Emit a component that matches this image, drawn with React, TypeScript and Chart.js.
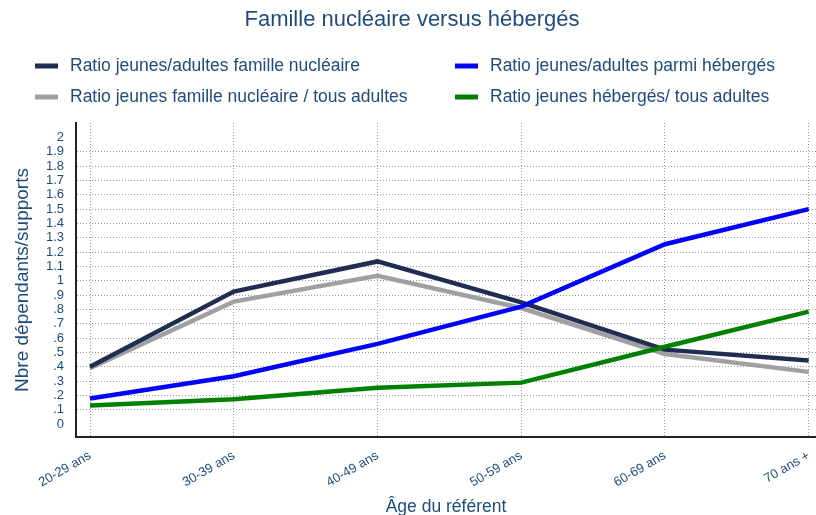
import React, { useEffect, useRef } from "react";
import { Chart, registerables } from "chart.js";

Chart.register(...registerables);

const categories = ["20-29 ans", "30-39 ans", "40-49 ans", "50-59 ans", "60-69 ans", "70 ans +"];
const ratioFamille = [0.4, 0.925, 1.135, 0.85, 0.52, 0.445];
const ratioHeberges = [0.18, 0.335, 0.56, 0.82, 1.255, 1.5];
const ratioFamilleTous = [0.39, 0.855, 1.035, 0.81, 0.49, 0.365];
const ratioHebergesTous = [0.13, 0.175, 0.255, 0.29, 0.54, 0.785];
const yTickValues = [0, 0.1, 0.2, 0.3, 0.4, 0.5, 0.6, 0.7, 0.8, 0.9, 1, 1.1, 1.2, 1.3, 1.4, 1.5, 1.6, 1.7, 1.8, 1.9, 2];
const seriesNames = [
  "Ratio jeunes/adultes famille nucléaire",
  "Ratio jeunes/adultes parmi hébergés",
  "Ratio jeunes famille nucléaire / tous adultes",
  "Ratio jeunes hébergés/ tous adultes",
];
const seriesColors = ["#1f2d52", "#0000ff", "#a0a0a0", "#008000"];
const titleText = "Famille nucléaire versus hébergés";
const xTitle = "Âge du référent";
const yTitle = "Nbre dépendants/supports";

const TEXT = "#1f4b7a";
const FONT = "'Liberation Sans', Arial, Helvetica, sans-serif";

const fmtTick = (v: number) => {
  const r = Math.round(v * 10) / 10;
  if (r === 0) return "0";
  if (r < 1) return "." + Math.round(r * 10);
  return String(r);
};

const headerPlugin = {
  id: "header",
  afterDraw(chart: any) {
    const ctx = chart.ctx;
    ctx.save();
    ctx.fillStyle = TEXT;
    ctx.textBaseline = "middle";
    ctx.textAlign = "center";
    ctx.font = `22px ${FONT}`;
    ctx.fillText(titleText, 412, 20);
    ctx.textAlign = "left";
    ctx.font = `17.5px ${FONT}`;
    const cols = [35, 455];
    const rows = [66, 97];
    seriesNames.forEach((name, k) => {
      const x = cols[k % 2];
      const y = rows[Math.floor(k / 2)];
      ctx.fillStyle = seriesColors[k];
      ctx.fillRect(x, y - 2.5, 23, 5);
      ctx.fillStyle = TEXT;
      ctx.fillText(name, x + 35, y);
    });
    ctx.restore();
  },
};

export default function App() {
  const ref = useRef<HTMLCanvasElement>(null);
  useEffect(() => {
    if (!ref.current) return;
    const series = [ratioFamille, ratioHeberges, ratioFamilleTous, ratioHebergesTous];
    const orders = [2, 1, 3, 0];
    const chart = new Chart(ref.current, {
      type: "line",
      data: {
        datasets: series.map((s, i) => ({
          label: seriesNames[i],
          data: s.map((v, j) => ({ x: j, y: v })),
          borderColor: seriesColors[i],
          backgroundColor: seriesColors[i],
          borderWidth: 4.5,
          pointRadius: 0,
          tension: 0,
          fill: false,
          order: orders[i],
        })),
      },
      options: {
        animation: false,
        responsive: false,
        layout: { padding: { top: 123, left: 4, right: 0, bottom: 0 } },
        plugins: {
          legend: { display: false },
          title: { display: false },
          tooltip: { enabled: false },
        },
        scales: {
          x: {
            type: "linear",
            min: -0.0974,
            max: 5.0508,
            afterBuildTicks: (scale: any) => {
              scale.ticks = categories.map((_, i) => ({ value: i }));
            },
            afterFit: (scale: any) => {
              scale.height = 78;
              scale.paddingRight = 0;
            },
            ticks: {
              autoSkip: false,
              maxRotation: 30,
              minRotation: 30,
              padding: 11,
              color: TEXT,
              font: { family: FONT, size: 13 },
              callback: (v: any) => categories[Math.round(Number(v))] ?? "",
            },
            grid: { color: "#9a9a9a", lineWidth: 1, drawTicks: false },
            border: { display: true, color: "#222", width: 2, dash: [1, 2] },
            title: {
              display: true,
              text: xTitle,
              color: TEXT,
              font: { family: FONT, size: 17.5, lineHeight: 1 },
              padding: { top: 0, bottom: -1 },
            },
          },
          y: {
            type: "linear",
            min: -0.089,
            max: 2.1,
            afterBuildTicks: (scale: any) => {
              scale.ticks = yTickValues.map((v) => ({ value: v }));
            },
            afterFit: (scale: any) => {
              scale.width = 72;
            },
            ticks: {
              autoSkip: false,
              padding: 12,
              color: TEXT,
              font: { family: FONT, size: 13 },
              callback: (v: any) => fmtTick(Number(v)),
            },
            grid: {
              drawTicks: false,
              lineWidth: 1,
              color: (c: any) => {
                const v = c.tick ? Math.round(c.tick.value * 10) : -1;
                return v === 0 || v === 20 ? "rgba(0,0,0,0)" : "#9a9a9a";
              },
            },
            border: { display: true, color: "#222", width: 2, dash: [1, 2] },
            title: {
              display: true,
              text: yTitle,
              color: TEXT,
              font: { family: FONT, size: 19 },
              padding: { top: 7, bottom: 0 },
            },
          },
        },
      },
      plugins: [headerPlugin],
    });
    return () => chart.destroy();
  }, []);
  return (
    <div style={{ position: "absolute", left: 0, top: 0, width: 816, height: 515, background: "#fff" }}>
      <canvas ref={ref} width={816} height={515} />
    </div>
  );
}
